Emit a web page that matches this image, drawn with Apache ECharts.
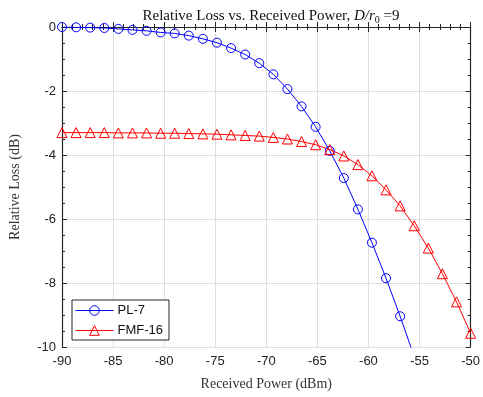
<!DOCTYPE html>
<html><head><meta charset="utf-8">
<script src="https://cdn.jsdelivr.net/npm/echarts@6/dist/echarts.min.js"></script>
<style>html,body{margin:0;padding:0;background:#fff}#c{width:483px;height:397px}</style>
</head><body><div id="c"></div>
<script>
var powerDbm = [-90, -88.62, -87.24, -85.86, -84.48, -83.10, -81.72, -80.34, -78.97, -77.59,
  -76.21, -74.83, -73.45, -72.07, -70.69, -69.31, -67.93, -66.55, -65.17, -63.79,
  -62.41, -61.03, -59.66, -58.28, -56.90, -55.52, -54.14, -52.76, -51.38, -50];
var pl7 = [0, -0.01, -0.02, -0.03, -0.06, -0.09, -0.12, -0.17, -0.20, -0.27,
  -0.37, -0.49, -0.66, -0.86, -1.13, -1.48, -1.94, -2.48, -3.12, -3.87,
  -4.72, -5.70, -6.74, -7.85, -9.04, -10.3, -11.6];
var fmf16 = [-3.30, -3.30, -3.30, -3.30, -3.31, -3.31, -3.31, -3.32, -3.32, -3.33,
  -3.34, -3.35, -3.37, -3.39, -3.41, -3.45, -3.50, -3.58, -3.68, -3.83,
  -4.03, -4.30, -4.65, -5.09, -5.59, -6.21, -6.91, -7.71, -8.59, -9.57];
var seriesNames = ['PL-7', 'FMF-16'];
var titleText = 'Relative Loss vs. Received Power, ';
var xName = 'Received Power (dBm)';
var yName = 'Relative Loss (dB)';

function pairs(xs, ys) { return ys.map(function (v, i) { return [xs[i], v]; }); }

var axisCol = '#262626';
var serif = '"Liberation Serif", "DejaVu Serif", serif';
var sans = '"Liberation Sans", Arial, sans-serif';

var chart = echarts.init(document.getElementById('c'), null, {renderer: 'canvas'});
chart.setOption({
  animation: false,
  backgroundColor: '#fff',
  title: {
    text: '{n|' + titleText + '}{i|D/r}{s|0}{n| =9}',
    left: 266, textAlign: 'center', top: 1,
    textStyle: {
      fontWeight: 'normal',
      rich: {
        n: {fontFamily: serif, fontSize: 15, fontWeight: 'normal', color: '#111', verticalAlign: 'bottom', lineHeight: 18},
        i: {fontFamily: serif, fontSize: 15, fontWeight: 'normal', fontStyle: 'italic', color: '#111', verticalAlign: 'bottom', lineHeight: 18},
        s: {fontFamily: serif, fontSize: 10, fontWeight: 'normal', color: '#111', verticalAlign: 'bottom', lineHeight: 14, padding: [0, 0, -1, 0]}
      }
    }
  },
  grid: {left: 61, right: 12, top: 27, bottom: 50, containLabel: false},
  legend: {
    left: 72, top: 300, orient: 'vertical',
    backgroundColor: '#fff', borderColor: axisCol, borderWidth: 1,
    padding: [4, 6, 3, 3], itemWidth: 38, itemHeight: 12, itemGap: 7,
    itemStyle: {borderWidth: 1, color: 'rgba(0,0,0,0)'},
    lineStyle: {width: 1},
    textStyle: {fontFamily: sans, fontSize: 13, color: '#111', padding: [0, 0, 0, -1]},
    data: seriesNames
  },
  xAxis: [{
    type: 'value', min: -90, max: -50, interval: 5,
    name: xName, nameLocation: 'middle', nameGap: 30,
    nameTextStyle: {fontFamily: serif, fontSize: 14, color: '#333'},
    axisLine: {lineStyle: {color: axisCol, width: 1.2}},
    axisTick: {inside: true, length: 5, lineStyle: {color: axisCol}},
    minorTick: {show: true, splitNumber: 5, length: 3, lineStyle: {color: axisCol}},
    axisLabel: {fontFamily: sans, fontSize: 13, color: '#222', margin: 8},
    splitLine: {show: true, lineStyle: {color: '#dedede', width: 1}}
  }, {
    type: 'value', min: -90, max: -50, interval: 5, position: 'top',
    axisLine: {lineStyle: {color: axisCol, width: 1.2}},
    axisTick: {inside: true, length: 5, lineStyle: {color: axisCol}},
    minorTick: {show: true, splitNumber: 5, length: 3, lineStyle: {color: axisCol}},
    axisLabel: {show: false}, splitLine: {show: false}
  }],
  yAxis: [{
    type: 'value', min: -10, max: 0, interval: 2,
    name: yName, nameLocation: 'middle', nameGap: 40, nameRotate: 90,
    nameTextStyle: {fontFamily: serif, fontSize: 14, color: '#333'},
    axisLine: {lineStyle: {color: axisCol, width: 1.2}},
    axisTick: {inside: true, length: 5, lineStyle: {color: axisCol}},
    minorTick: {show: true, splitNumber: 4, length: 3, lineStyle: {color: axisCol}},
    axisLabel: {fontFamily: sans, fontSize: 13, color: '#222', margin: 6},
    splitLine: {show: true, lineStyle: {color: '#dedede', width: 1}}
  }, {
    type: 'value', min: -10, max: 0, interval: 2, position: 'right',
    axisLine: {show: true, lineStyle: {color: axisCol, width: 1.2}},
    axisTick: {show: true, inside: true, length: 5, lineStyle: {color: axisCol}},
    minorTick: {show: true, splitNumber: 4, length: 3, lineStyle: {color: axisCol}},
    axisLabel: {show: false}, splitLine: {show: false}
  }],
  series: [{
    name: seriesNames[0], type: 'line', xAxisIndex: 0, yAxisIndex: 0,
    data: pairs(powerDbm, pl7), clip: true,
    symbol: 'circle', symbolSize: 9, showAllSymbol: true,
    lineStyle: {color: '#0000ff', width: 1},
    itemStyle: {color: 'rgba(0,0,0,0)', borderColor: '#0000ff', borderWidth: 1}
  }, {
    name: seriesNames[1], type: 'line', xAxisIndex: 0, yAxisIndex: 0,
    data: pairs(powerDbm, fmf16), clip: false,
    symbol: 'triangle', symbolSize: 10, showAllSymbol: true,
    lineStyle: {color: '#ff0000', width: 1},
    itemStyle: {color: 'rgba(0,0,0,0)', borderColor: '#ff0000', borderWidth: 1}
  }]
});
</script></body></html>
